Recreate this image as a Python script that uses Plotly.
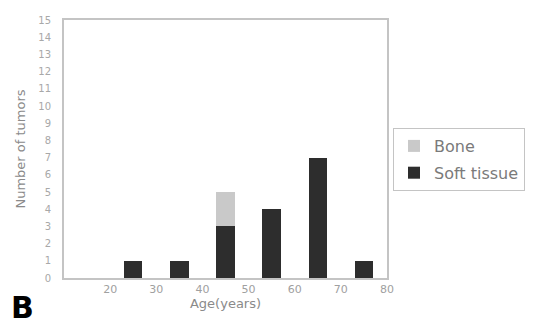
import plotly.graph_objects as go

age_bins = [25, 35, 45, 55, 65, 75]
soft_tissue = [1, 1, 3, 4, 7, 1]
bone = [0, 0, 2, 0, 0, 0]
x_ticks = [20, 30, 40, 50, 60, 70, 80]
y_ticks = list(range(0, 16))

W, H = 530, 316
L, T, PW, PH = 56, 12, 323, 258

fig = go.Figure()
fig.add_trace(go.Bar(x=age_bins, y=soft_tissue, name="Soft tissue", width=4,
                     legendgroup="s", legendrank=2,
                     marker=dict(color="#2d2d2d", line=dict(width=0))))
fig.add_trace(go.Bar(x=age_bins, y=bone, name="Bone", width=4,
                     legendgroup="b", legendrank=1,
                     marker=dict(color="#c9c9c9", line=dict(width=0))))

fig.update_layout(
    barmode="stack",
    width=W, height=H,
    margin=dict(l=L, r=W - L - PW, t=T, b=H - T - PH, autoexpand=False),
    paper_bgcolor="white", plot_bgcolor="white",
    font=dict(family="DejaVu Sans", color="#8a8a8a"),
    showlegend=True,
    legend=dict(x=(386 - 63 + 6) / PW, y=(277 - 127) / PH, xanchor="left", yanchor="top",
                bordercolor="#c4c4c4", borderwidth=1,
                font=dict(size=16, color="#7a7a7a"), itemwidth=30,
                tracegroupgap=3),
    xaxis=dict(range=[10, 80], tickvals=x_ticks, ticktext=[str(v) for v in x_ticks],
               showline=True, linecolor="#c4c4c4", linewidth=2, mirror=True,
               showgrid=False, zeroline=False, ticks="",
               tickfont=dict(size=11, color="#a0a0a0"),
               title=dict(text="Age(years)", font=dict(size=13, color="#8a8a8a"), standoff=3)),
    yaxis=dict(range=[0, 15], tickvals=y_ticks,
               showline=True, linecolor="#c4c4c4", linewidth=2, mirror=True,
               showgrid=False, zeroline=False, ticks="", ticklabelstandoff=9,
               tickfont=dict(size=10, color="#a8a8a8"),
               title=dict(text="Number of tumors", font=dict(size=13, color="#8a8a8a"), standoff=10)),
)
fig.add_annotation(text="<b>B</b>", x=(8 - 63) / PW, y=(277 - 326) / PH,
                   xref="paper", yref="paper",
                   xanchor="left", yanchor="bottom", showarrow=False,
                   font=dict(size=30, color="black", family="DejaVu Sans"))
fig.write_html("out.html")
